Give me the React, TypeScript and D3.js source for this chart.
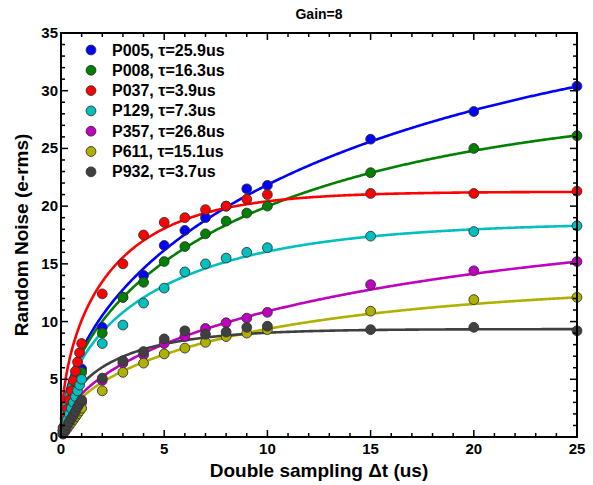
import React from "react";
import * as d3 from "d3";

// Double-sampling interval (us) at which each noise value was measured
const sampleTimes = [
  0.1, 0.2, 0.3, 0.4, 0.5, 0.6, 0.7, 0.8, 0.9, 1,
  2, 3, 4, 5, 6, 7, 8, 9, 10, 15, 20, 25,
];

// Measured random noise (e-rms) per pixel
const p005 = [0.6, 1.2, 1.8, 2.4, 3.0, 3.6, 4.2, 4.8, 5.3, 5.9, 9.5, 12.1, 14.0, 16.6, 17.9, 19.0, 20.0, 21.5, 21.8, 25.8, 28.2, 30.4];
const p008 = [0.56, 1.1, 1.7, 2.2, 2.8, 3.4, 3.9, 4.5, 5.0, 5.6, 9.0, 12.1, 13.4, 15.2, 16.5, 17.6, 18.7, 19.4, 20.0, 22.9, 25.0, 26.1];
const p037 = [0.8, 1.6, 2.4, 3.2, 4.0, 4.9, 5.7, 6.5, 7.3, 8.1, 12.4, 15.0, 17.5, 18.6, 19.0, 19.7, 20.0, 20.6, 21.0, 21.1, 21.1, 21.3];
const p129 = [0.5, 1.0, 1.5, 2.0, 2.5, 3.0, 3.5, 4.0, 4.5, 5.0, 8.1, 9.7, 11.6, 12.9, 14.3, 15.0, 15.5, 16.0, 16.4, 17.4, 17.8, 18.3];
const p357 = [0.3, 0.6, 0.9, 1.2, 1.5, 1.8, 2.1, 2.4, 2.7, 3.0, 4.9, 6.4, 7.1, 8.1, 8.7, 9.4, 9.9, 10.3, 10.8, 13.2, 14.4, 15.2];
const p611 = [0.25, 0.5, 0.75, 1.0, 1.25, 1.5, 1.75, 2.0, 2.25, 2.5, 4.0, 5.6, 6.4, 7.2, 7.7, 8.2, 8.7, 9.0, 9.3, 10.9, 11.9, 12.1];
const p932 = [0.3, 0.6, 1.0, 1.3, 1.6, 1.9, 2.2, 2.6, 2.9, 3.2, 5.1, 6.6, 7.4, 8.5, 9.2, 8.9, 9.1, 9.5, 9.6, 9.3, 9.5, 9.2];

const seriesNames = ["P005", "P008", "P037", "P129", "P357", "P611", "P932"];
const seriesValues = [p005, p008, p037, p129, p357, p611, p932];
// Fitted time constants (us) and saturation amplitudes (e-rms) of
// noise = A * sqrt(1 - exp(-dt / tau))
const tauValues = [25.9, 16.3, 3.9, 7.3, 26.8, 15.1, 3.7];
const fitAmplitude = [38.6, 29.5, 21.25, 18.6, 19.5, 13.45, 9.35];
const seriesColors = ["#0000ff", "#008000", "#ff0000", "#00bfbf", "#bf00bf", "#b0b000", "#404040"];

const xTicks = [0, 5, 10, 15, 20, 25];
const yTicks = [0, 5, 10, 15, 20, 25, 30, 35];

const W = 593;
const H = 485;
const plot = { left: 61, right: 577, top: 33, bottom: 437 };
const FONT = "Arial, 'Liberation Sans', Helvetica, sans-serif";

export default function App() {
  const x = d3.scaleLinear().domain([0, 25]).range([plot.left, plot.right]);
  const y = d3.scaleLinear().domain([0, 35]).range([plot.bottom, plot.top]);

  const fitTimes = d3.range(0, 25.0001, 0.05);
  const line = d3
    .line<[number, number]>()
    .x((d) => x(d[0]))
    .y((d) => y(d[1]));

  const xMinor = d3.range(0, 26, 1);
  const yMinor = d3.range(0, 36, 1);
  const majorLen = 7;
  const minorLen = 4;
  const dotR = 4.9;

  return (
    <svg
      width={W}
      height={H}
      style={{ position: "absolute", left: 0, top: 0, background: "#fff" }}
      fontFamily={FONT}
    >
      <rect x={0} y={0} width={W} height={H} fill="#fff" />
      <defs>
        <clipPath id="plotClip">
          <rect x={plot.left} y={plot.top} width={plot.right - plot.left} height={plot.bottom - plot.top} />
        </clipPath>
      </defs>
      <text x={(plot.left + plot.right) / 2} y={19} textAnchor="middle" fontSize={14} fontWeight="bold">
        Gain=8
      </text>

      {/* fitted curves */}
      <g clipPath="url(#plotClip)">
        {seriesNames.map((name, i) => {
          const pts: [number, number][] = fitTimes.map((t) => [
            t,
            fitAmplitude[i] * Math.sqrt(1 - Math.exp(-t / tauValues[i])),
          ]);
          return (
            <path key={name} d={line(pts) ?? ""} fill="none" stroke={seriesColors[i]} strokeWidth={2.6} />
          );
        })}
      </g>

      {/* measured points */}
      {seriesNames.map((name, i) => (
        <g key={name}>
          {sampleTimes.map((t, j) => (
            <circle
              key={j}
              cx={x(t)}
              cy={y(seriesValues[i][j])}
              r={dotR}
              fill={seriesColors[i]}
              stroke="#333"
              strokeWidth={0.9}
            />
          ))}
        </g>
      ))}

      {/* axes box */}
      <rect
        x={plot.left}
        y={plot.top}
        width={plot.right - plot.left}
        height={plot.bottom - plot.top}
        fill="none"
        stroke="#000"
        strokeWidth={2}
      />
      {xMinor.map((v) => {
        const len = v % 5 === 0 ? majorLen : minorLen;
        return (
          <g key={"xt" + v} stroke="#000" strokeWidth={1.5}>
            <line x1={x(v)} x2={x(v)} y1={plot.bottom} y2={plot.bottom - len} />
            <line x1={x(v)} x2={x(v)} y1={plot.top} y2={plot.top + len} />
          </g>
        );
      })}
      {yMinor.map((v) => {
        const len = v % 5 === 0 ? majorLen : minorLen;
        return (
          <g key={"yt" + v} stroke="#000" strokeWidth={1.5}>
            <line x1={plot.left} x2={plot.left + len} y1={y(v)} y2={y(v)} />
            <line x1={plot.right} x2={plot.right - len} y1={y(v)} y2={y(v)} />
          </g>
        );
      })}
      {xTicks.map((v) => (
        <text key={"xl" + v} x={x(v)} y={plot.bottom + 17} textAnchor="middle" fontSize={15} fontWeight="bold">
          {v}
        </text>
      ))}
      {yTicks.map((v) => (
        <text key={"yl" + v} x={plot.left - 3} y={y(v) + 5} textAnchor="end" fontSize={15} fontWeight="bold">
          {v}
        </text>
      ))}

      <text x={(plot.left + plot.right) / 2} y={477} textAnchor="middle" fontSize={19} fontWeight="bold">
        Double sampling Δt (us)
      </text>
      <text
        transform={`translate(28, ${(plot.top + plot.bottom) / 2}) rotate(-90)`}
        textAnchor="middle"
        fontSize={19}
        fontWeight="bold"
      >
        Random Noise (e-rms)
      </text>

      {/* legend */}
      {seriesNames.map((name, i) => {
        const cy = 50 + i * 20.3;
        return (
          <g key={"lg" + name}>
            <circle cx={91} cy={cy} r={dotR} fill={seriesColors[i]} stroke="#333" strokeWidth={0.9} />
            <text x={112} y={cy + 5.5} fontSize={16} fontWeight="bold">
              {`${name}, τ=${tauValues[i]}us`}
            </text>
          </g>
        );
      })}
    </svg>
  );
}
